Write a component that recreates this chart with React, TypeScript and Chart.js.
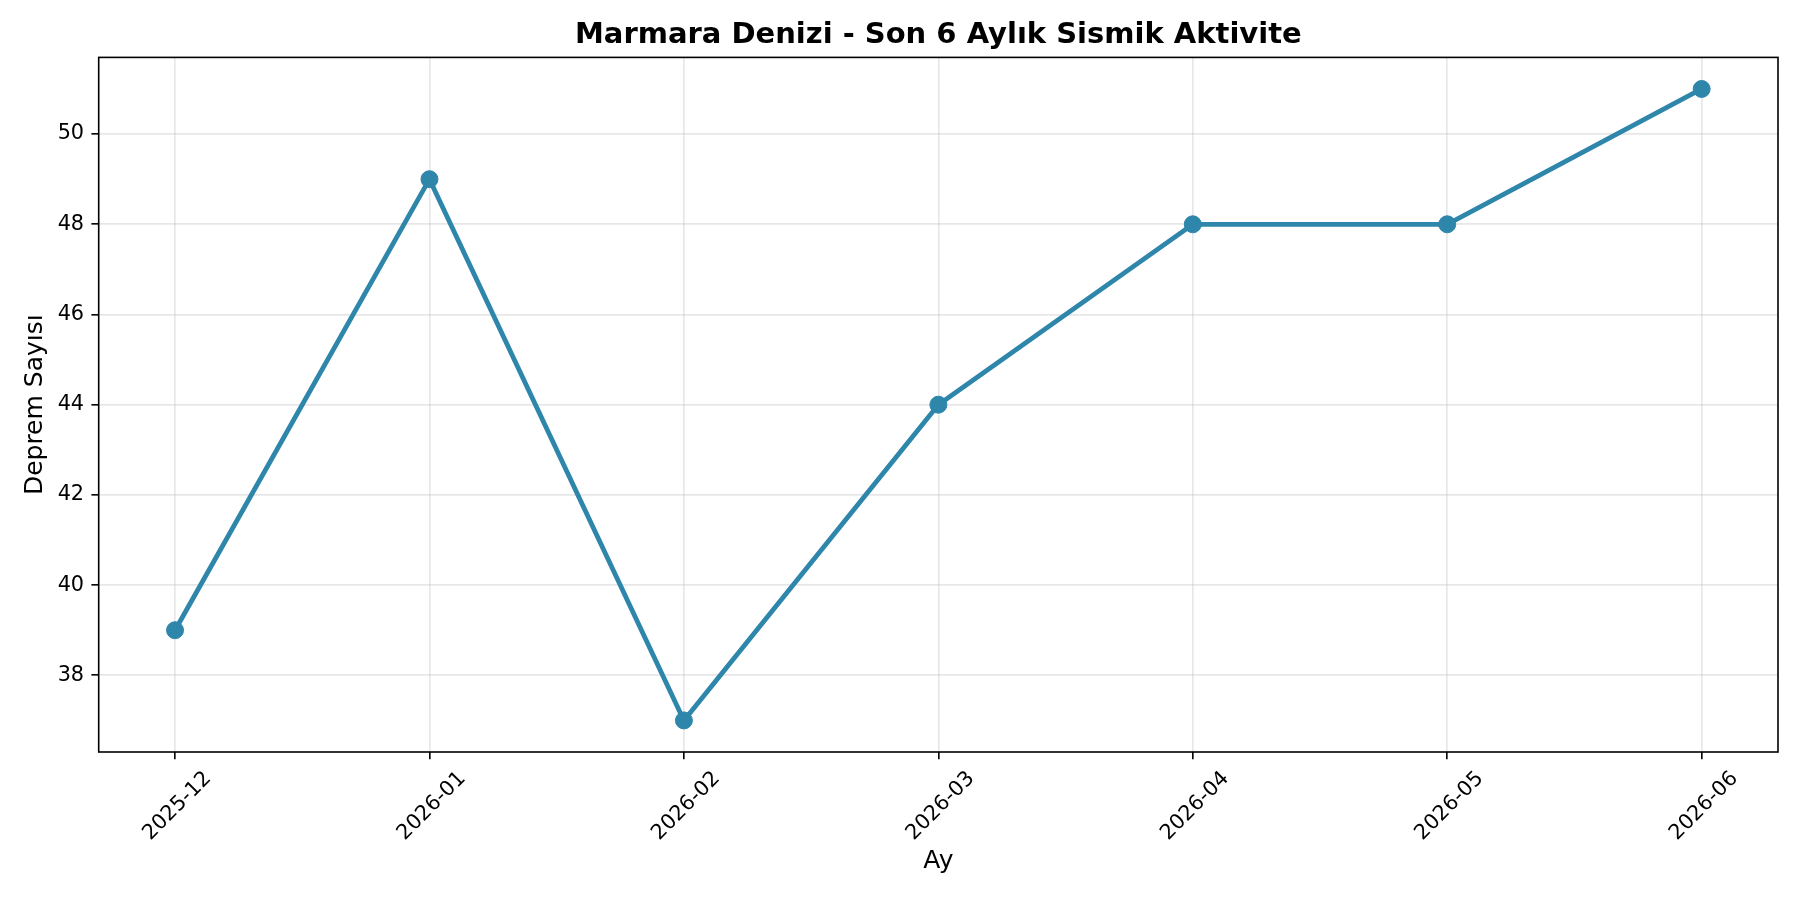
import React, { useEffect, useRef } from 'react';
import { Chart, registerables } from 'chart.js';

Chart.register(...registerables);

// Monthly earthquake counts
const months = ['2025-12', '2026-01', '2026-02', '2026-03', '2026-04', '2026-05', '2026-06'];
const quakeCounts = [39, 49, 37, 44, 48, 48, 51];
const yTicks = [38, 40, 42, 44, 46, 48, 50];

const FONT = "'DejaVu Sans', sans-serif";
const LINE_COLOR = '#2E86AB';
const GRID_COLOR = 'rgba(176, 176, 176, 0.3)';

// draws the four-sided axes frame like matplotlib spines
const framePlugin = {
  id: 'frame',
  afterDatasetsDraw(chart: any) {
    const { ctx, chartArea } = chart;
    ctx.save();
    ctx.strokeStyle = '#000';
    ctx.lineWidth = 1.6;
    ctx.strokeRect(chartArea.left, chartArea.top, chartArea.right - chartArea.left, chartArea.bottom - chartArea.top);
    ctx.restore();
  },
};

const App: React.FC = () => {
  const canvasRef = useRef<HTMLCanvasElement>(null);
  const chartRef = useRef<Chart | null>(null);

  useEffect(() => {
    if (!canvasRef.current) return;
    const ctx = canvasRef.current.getContext('2d');
    if (!ctx) return;

    const points = quakeCounts.map((v, i) => ({ x: i, y: v }));

    const config: any = {
      type: 'line',
      data: {
        datasets: [
          {
            label: 'Deprem Sayısı',
            data: points,
            borderColor: LINE_COLOR,
            backgroundColor: LINE_COLOR,
            borderWidth: 4.8,
            pointRadius: 8.5,
            pointBorderWidth: 1,
            pointBorderColor: LINE_COLOR,
            pointBackgroundColor: LINE_COLOR,
            tension: 0,
            clip: false,
          },
        ],
      },
      options: {
        responsive: true,
        maintainAspectRatio: false,
        animation: false,
        layout: { padding: { left: 0, right: 22, top: 0, bottom: 0 } },
        plugins: {
          legend: { display: false },
          tooltip: { enabled: false },
          title: {
            display: true,
            text: 'Marmara Denizi - Son 6 Aylık Sismik Aktivite',
            color: '#000',
            font: { family: FONT, size: 29, weight: 'bold' },
            padding: { top: 18, bottom: 4.6 },
            fullSize: false,
          },
        },
        scales: {
          x: {
            type: 'linear',
            min: -0.3,
            max: 6.3,
            afterBuildTicks: (scale: any) => {
              scale.ticks = months.map((_, i) => ({ value: i }));
            },
            afterFit: (scale: any) => {
              scale.height = 148;
            },
            ticks: {
              autoSkip: false,
              minRotation: 45,
              maxRotation: 45,
              padding: 7.3,
              labelOffset: 33,
              color: '#000',
              font: { family: FONT, size: 20.8 },
              callback: (value: any) => months[value] ?? '',
            },
            grid: {
              color: GRID_COLOR,
              lineWidth: 1.67,
              drawTicks: true,
              tickLength: 7.3,
              tickColor: '#000',
              tickWidth: 1.6,
            },
            border: { display: false },
            title: {
              display: true,
              text: 'Ay',
              color: '#000',
              font: { family: FONT, size: 25 },
              padding: { top: 0, bottom: 24 },
            },
          },
          y: {
            type: 'linear',
            min: 36.3,
            max: 51.7,
            afterBuildTicks: (scale: any) => {
              scale.ticks = yTicks.map((v) => ({ value: v }));
            },
            afterFit: (scale: any) => {
              scale.width = 98.7;
            },
            ticks: {
              padding: 7.3,
              color: '#000',
              font: { family: FONT, size: 20.8 },
            },
            grid: {
              color: GRID_COLOR,
              lineWidth: 1.67,
              drawTicks: true,
              tickLength: 7.3,
              tickColor: '#000',
              tickWidth: 1.6,
            },
            border: { display: false },
            title: {
              display: true,
              text: 'Deprem Sayısı',
              color: '#000',
              font: { family: FONT, size: 25 },
              padding: { top: 20.6, bottom: 0 },
            },
          },
        },
      },
      plugins: [framePlugin],
    };

    chartRef.current = new Chart(ctx, config);

    return () => {
      if (chartRef.current) {
        chartRef.current.destroy();
        chartRef.current = null;
      }
    };
  }, []);

  return (
    <div style={{ position: 'absolute', left: 0, top: 0, width: 1800, height: 900, background: '#fff' }}>
      <canvas ref={canvasRef} />
    </div>
  );
};

export default App;
